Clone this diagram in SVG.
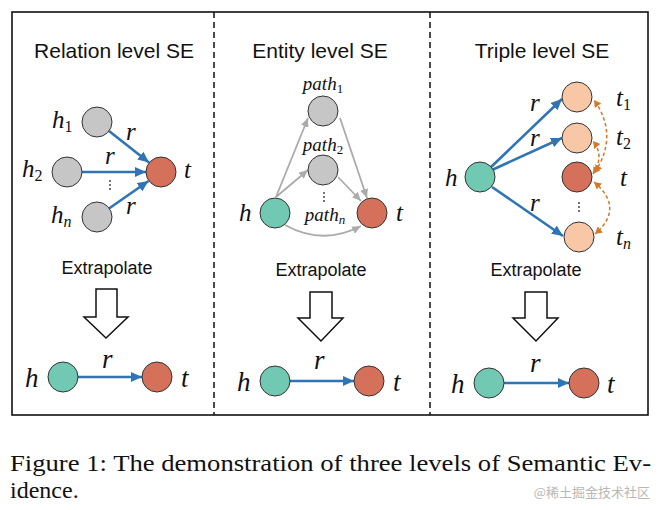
<svg xmlns="http://www.w3.org/2000/svg" width="663" height="510" viewBox="0 0 663 510">
<style>
.title{font-family:"Liberation Sans",Arial,sans-serif;font-size:21px;fill:#111;text-anchor:middle}
.ext{font-family:"Liberation Sans",Arial,sans-serif;font-size:18px;fill:#111;text-anchor:middle}
.m{font-family:"Liberation Serif","DejaVu Serif",serif;font-style:italic;font-size:25px;fill:#111}
.mb{font-size:27px}
.p{font-family:"Liberation Serif","DejaVu Serif",serif;font-style:italic;font-size:19px;fill:#111;text-anchor:middle}
.sub{font-style:normal;font-size:16px}
.subi{font-size:16px}
.psub{font-style:normal;font-size:13px}
.psubi{font-size:13px}
.gray{fill:#c6c6c6;stroke:#333;stroke-width:1}
.teal{fill:#72c9b3;stroke:#333;stroke-width:1}
.red{fill:#d5705b;stroke:#333;stroke-width:1}
.peach{fill:#f8c8a6;stroke:#333;stroke-width:1}
.blue{stroke:#2f74b5;stroke-width:2.6;fill:none;marker-end:url(#ab)}
.garr{stroke:#ababab;stroke-width:1.8;fill:none;marker-end:url(#ag)}
.oarr{stroke:#d6772a;stroke-width:1.5;stroke-dasharray:3.5 2.5;fill:none;marker-end:url(#ao);marker-start:url(#ao)}
.hollow{fill:#fff;stroke:#111;stroke-width:1.5;stroke-linejoin:miter}
.dot{fill:#333}
.cap{font-family:"Liberation Serif","Times New Roman",serif;font-size:24px;fill:#111}
</style>
<defs>
<marker id="ab" markerUnits="userSpaceOnUse" markerWidth="12" markerHeight="10" refX="11" refY="5" orient="auto"><path d="M0,0 L11,5 L0,10 Z" fill="#2f74b5"/></marker>
<marker id="ag" markerUnits="userSpaceOnUse" markerWidth="10" markerHeight="8" refX="9" refY="4" orient="auto"><path d="M0,0 L9,4 L0,8 Z" fill="#ababab"/></marker>
<marker id="ao" markerUnits="userSpaceOnUse" markerWidth="8" markerHeight="8" refX="7" refY="4" orient="auto-start-reverse"><path d="M0,0 L7,4 L0,8 Z" fill="#d6772a"/></marker>
</defs>
<rect width="663" height="510" fill="#fff"/>
<g id="frame">
<rect x="12" y="12" width="636" height="403" fill="none" stroke="#111" stroke-width="1.6"/>
<line x1="214" y1="12" x2="214" y2="415" stroke="#111" stroke-width="1.5" stroke-dasharray="6 4"/>
<line x1="430" y1="12" x2="430" y2="415" stroke="#111" stroke-width="1.5" stroke-dasharray="6 4"/>
</g>
<g id="titles">
<text class="title" x="114" y="58">Relation level SE</text>
<text class="title" x="320" y="58">Entity level SE</text>
<text class="title" x="542" y="58">Triple level SE</text>
<text class="ext" x="107" y="274">Extrapolate</text>
<text class="ext" x="321" y="276">Extrapolate</text>
<text class="ext" x="536" y="276">Extrapolate</text>
</g>
<g id="connectors">
<line class="blue" x1="109" y1="131" x2="149" y2="162.5"/>
<line class="blue" x1="82" y1="172" x2="146" y2="172"/>
<line class="blue" x1="109" y1="208.5" x2="148.5" y2="181"/>
<line class="garr" x1="276" y1="197" x2="308" y2="118"/>
<line class="garr" x1="276" y1="197" x2="308" y2="170"/>
<line class="garr" x1="340" y1="118" x2="367" y2="198"/>
<line class="garr" x1="338" y1="177" x2="361" y2="201"/>
<path class="garr" d="M285,225 Q323,246 361,226"/>
<line class="blue" x1="490" y1="168" x2="562" y2="99"/>
<line class="blue" x1="492" y1="170" x2="562" y2="138"/>
<line class="blue" x1="492" y1="187" x2="563" y2="236"/>
<path class="oarr" d="M595,172 Q619,135 594,100"/>
<path class="oarr" d="M593,174 Q605,156 593,141"/>
<path class="oarr" d="M594,182 Q625,208 595,234"/>
<line class="blue" x1="78" y1="377" x2="142" y2="377"/>
<line class="blue" x1="290" y1="381" x2="354" y2="381"/>
<line class="blue" x1="504" y1="383" x2="569" y2="383"/>
<path id="ex1" class="hollow" d="M96,289 H117 V317 H128 L106,338 L84,317 H96 Z"/>
<path id="ex2" class="hollow" d="M310,292 H332 V318 H343 L321,341 L298,318 H310 Z"/>
<path id="ex3" class="hollow" d="M525,292 H547 V318 H558 L536,341 L513,318 H525 Z"/>
</g>
<g id="p1-h1"><circle class="gray" cx="97" cy="122" r="15"/><text class="m" x="52" y="128">h<tspan class="sub" dy="4">1</tspan></text></g>
<g id="p1-h2"><circle class="gray" cx="67" cy="172" r="15"/><text class="m" x="22" y="177">h<tspan class="sub" dy="4">2</tspan></text></g>
<g id="p1-hn"><circle class="gray" cx="97" cy="217" r="15"/><text class="m" x="51" y="223">h<tspan class="subi" dy="4">n</tspan></text></g>
<g id="p1-t"><circle class="red" cx="161" cy="172" r="15"/><text class="m" x="184" y="178">t</text></g>
<g id="p1-labels">
<text class="m" x="126" y="140">r</text>
<text class="m" x="105" y="164">r</text>
<text class="m" x="126" y="214">r</text>
<circle class="dot" cx="110" cy="181" r="0.9"/><circle class="dot" cx="110" cy="185" r="0.9"/><circle class="dot" cx="110" cy="189" r="0.9"/>
</g>
<g id="p2-path1"><circle class="gray" cx="323" cy="111" r="15"/><text class="p" x="323" y="90">path<tspan class="psub" dy="3">1</tspan></text></g>
<g id="p2-path2"><circle class="gray" cx="323" cy="170" r="15"/><text class="p" x="323" y="151">path<tspan class="psub" dy="3">2</tspan></text></g>
<g id="p2-h"><circle class="teal" cx="275" cy="213" r="15"/><text class="m" x="239" y="221">h</text></g>
<g id="p2-t"><circle class="red" cx="372" cy="213" r="15"/><text class="m" x="396" y="221">t</text></g>
<g id="p2-labels">
<text class="p" x="325" y="221">path<tspan class="psubi" dy="3">n</tspan></text>
<circle class="dot" cx="324" cy="193" r="0.9"/><circle class="dot" cx="324" cy="197" r="0.9"/><circle class="dot" cx="324" cy="201" r="0.9"/>
</g>
<g id="p3-h"><circle class="teal" cx="480" cy="177" r="15"/><text class="m" x="445" y="186">h</text></g>
<g id="p3-t1"><circle class="peach" cx="577" cy="97" r="15"/><text class="m" x="616" y="106">t<tspan class="sub" dy="4">1</tspan></text></g>
<g id="p3-t2"><circle class="peach" cx="577" cy="138" r="15"/><text class="m" x="616" y="145">t<tspan class="sub" dy="4">2</tspan></text></g>
<g id="p3-t"><circle class="red" cx="577" cy="177" r="15"/><text class="m" x="620" y="186">t</text></g>
<g id="p3-tn"><circle class="peach" cx="579" cy="237" r="15"/><text class="m" x="616" y="245">t<tspan class="subi" dy="4">n</tspan></text></g>
<g id="p3-labels">
<text class="m" x="530" y="111">r</text>
<text class="m" x="530" y="146">r</text>
<text class="m" x="530" y="211">r</text>
<circle class="dot" cx="579" cy="203" r="0.9"/><circle class="dot" cx="579" cy="207" r="0.9"/><circle class="dot" cx="579" cy="211" r="0.9"/>
</g>
<g id="b1-h"><circle class="teal" cx="63" cy="377" r="15"/><text class="m mb" x="25" y="387">h</text></g>
<g id="b1-t"><circle class="red" cx="157" cy="377" r="15"/><text class="m mb" x="181" y="387">t</text></g>
<text class="m mb" x="102" y="368">r</text>
<g id="b2-h"><circle class="teal" cx="275" cy="381" r="15"/><text class="m mb" x="237" y="391">h</text></g>
<g id="b2-t"><circle class="red" cx="369" cy="381" r="15"/><text class="m mb" x="393" y="391">t</text></g>
<text class="m mb" x="314" y="369">r</text>
<g id="b3-h"><circle class="teal" cx="489" cy="383" r="15"/><text class="m mb" x="451" y="393">h</text></g>
<g id="b3-t"><circle class="red" cx="584" cy="383" r="15"/><text class="m mb" x="607" y="393">t</text></g>
<text class="m mb" x="530" y="372">r</text>
<g id="caption">
<text class="cap" x="10" y="471" textLength="641" lengthAdjust="spacingAndGlyphs">Figure 1: The demonstration of three levels of Semantic Ev-</text>
<text class="cap" x="10" y="498">idence.</text>
<text x="650" y="497" text-anchor="end" font-family="'Noto Sans CJK SC',sans-serif" font-size="13" fill="#b8b8b8">@稀土掘金技术社区</text>
</g>
</svg>
